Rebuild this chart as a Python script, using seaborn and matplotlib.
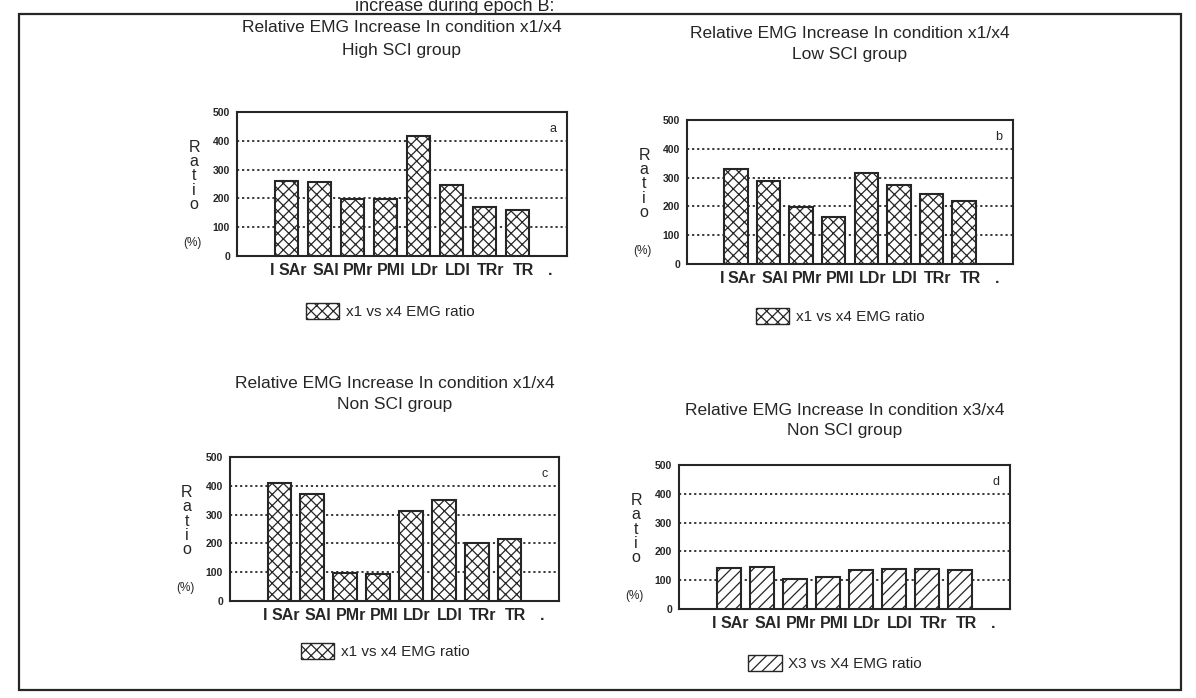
import matplotlib
matplotlib.use("Agg")
import matplotlib.pyplot as plt
import matplotlib.transforms as mtransforms
from matplotlib.patches import Patch, Rectangle
import pandas as pd
import seaborn as sns

# ---- data -------------------------------------------------------------
muscles = ["SAr", "SAI", "PMr", "PMI", "LDr", "LDI", "TRr", "TR"]
slots = ["I"] + muscles + ["."]

high_sci_x1x4 = [260, 257, 197, 197, 418, 245, 169, 160]
low_sci_x1x4 = [330, 288, 197, 162, 315, 275, 242, 220]
non_sci_x1x4 = [410, 371, 97, 94, 312, 350, 203, 215]
non_sci_x3x4 = [143, 145, 103, 110, 136, 140, 139, 134]

y_ticks = [0, 100, 200, 300, 400, 500]
y_tick_labels = ["0", "100", "200", "300", "400", "500"]
grid_levels = [100, 200, 300, 400]

titles = [
    ("Relative EMG Increase In condition x1/x4", "High SCI group"),
    ("Relative EMG Increase In condition x1/x4", "Low SCI group"),
    ("Relative EMG Increase In condition x1/x4", "Non SCI group"),
    ("Relative EMG Increase In condition x3/x4", "Non SCI group"),
]
legend_texts = ["x1 vs x4 EMG ratio", "x1 vs x4 EMG ratio",
                "x1 vs x4 EMG ratio", "X3 vs X4 EMG ratio"]
panel_letters = ["a", "b", "c", "d"]
series = [high_sci_x1x4, low_sci_x1x4, non_sci_x1x4, non_sci_x3x4]
caption = "increase during epoch B:"

# ---- layout (pixel geometry of the page) ------------------------------
W, H = 1196, 698
axes_px = [(237, 567, 112, 256), (687, 1013, 120, 264),
           (230, 559, 457, 601), (679, 1010, 465, 609)]
title_y_px = [(27, 50), (33, 55), (383, 405), (410, 431)]
legend_px = [(390, 311), (840, 316), (385, 651), (835, 663)]
hatches = ["xxx", "xxx", "xxx", "///"]

INK = "#262626"

sns.set_style("white")
plt.rcParams["font.family"] = ["Liberation Sans", "DejaVu Sans"]
plt.rcParams["hatch.linewidth"] = 0.9
plt.rcParams["hatch.color"] = INK

fig = plt.figure(figsize=(W / 100, H / 100), dpi=100)


def fx(x):
    return x / W


def fy(y):
    return 1 - y / H


# page frame and the caption line above it
fig.add_artist(Rectangle((fx(19), fy(690)), fx(1181) - fx(19), fy(14) - fy(690),
                         transform=fig.transFigure, fill=False,
                         edgecolor=INK, linewidth=1.6))
fig.text(fx(355), fy(11), caption, fontsize=13, color=INK,
         ha="left", va="baseline")

for i in range(4):
    left, right, top, bottom = axes_px[i]
    ax = fig.add_axes([fx(left), fy(bottom), fx(right) - fx(left),
                       fy(top) - fy(bottom)])
    df = pd.DataFrame({"muscle": muscles, "ratio": series[i]})
    sns.barplot(data=df, x="muscle", y="ratio", order=slots, color="white",
                saturation=1, edgecolor=INK, linewidth=1.5, width=0.72,
                hatch=hatches[i], ax=ax, zorder=3)

    ax.set_xlim(-0.5, len(slots) - 0.5)
    ax.set_ylim(y_ticks[0], y_ticks[-1])
    ax.set_yticks(y_ticks)
    ax.set_yticklabels(y_tick_labels)
    ax.set_xlabel("")
    ax.set_ylabel("")

    for lvl in grid_levels:
        ax.axhline(lvl, color=INK, linewidth=1.3, linestyle=(0, (1.2, 1.6)),
                   zorder=1)

    for sp in ax.spines.values():
        sp.set_visible(True)
        sp.set_color(INK)
        sp.set_linewidth(1.5)

    ax.tick_params(axis="y", which="major", direction="out", length=3,
                   width=1, color=INK, labelsize=7.5, labelcolor=INK, pad=2)
    for lbl in ax.get_yticklabels():
        lbl.set_fontweight("bold")
    ax.tick_params(axis="x", which="major", length=0, pad=5,
                   labelsize=11.5, labelcolor=INK)
    ax.set_xticks([0, len(slots) - 1], minor=True)
    ax.tick_params(axis="x", which="minor", direction="in", length=5,
                   width=1, color=INK)
    for lbl in ax.get_xticklabels():
        lbl.set_fontweight("bold")
        txt = lbl.get_text()
        shift = 19 if txt == "I" else (0 if txt == "." else 6)
        lbl.set_transform(lbl.get_transform() +
                          mtransforms.ScaledTranslation(shift / 100, 0,
                                                        fig.dpi_scale_trans))

    # stacked axis caption and unit
    ax.annotate("R\na\nt\ni\no", xy=(0, 0.5), xycoords="axes fraction",
                xytext=(-43, 8), textcoords="offset pixels", ha="center",
                va="center", fontsize=11.5, color=INK, linespacing=0.95)
    ax.annotate("(%)", xy=(0, 0), xycoords="axes fraction",
                xytext=(-45, 13), textcoords="offset pixels", ha="center",
                va="center", fontsize=8.5, color=INK)
    ax.annotate(panel_letters[i], xy=(1, 1), xycoords="axes fraction",
                xytext=(-14, -17), textcoords="offset pixels", ha="center",
                va="center", fontsize=9, color=INK)

    # two-line heading centred over the panel
    cx = (left + right) / 2
    fig.text(fx(cx), fy(title_y_px[i][0]), titles[i][0], ha="center",
             va="center", fontsize=12.5, color=INK)
    fig.text(fx(cx), fy(title_y_px[i][1]), titles[i][1], ha="center",
             va="center", fontsize=12.5, color=INK)

    handle = Patch(facecolor="white", edgecolor=INK, hatch=hatches[i],
                   linewidth=1.0, label=legend_texts[i])
    lx, ly = legend_px[i]
    ax.legend(handles=[handle], loc="center",
              bbox_to_anchor=(fx(lx), fy(ly)), bbox_transform=fig.transFigure,
              frameon=False, fontsize=11, handlelength=2.2, handleheight=1.2,
              handletextpad=0.4, labelcolor=INK)

fig.savefig("out.png", dpi=100, facecolor="white")
